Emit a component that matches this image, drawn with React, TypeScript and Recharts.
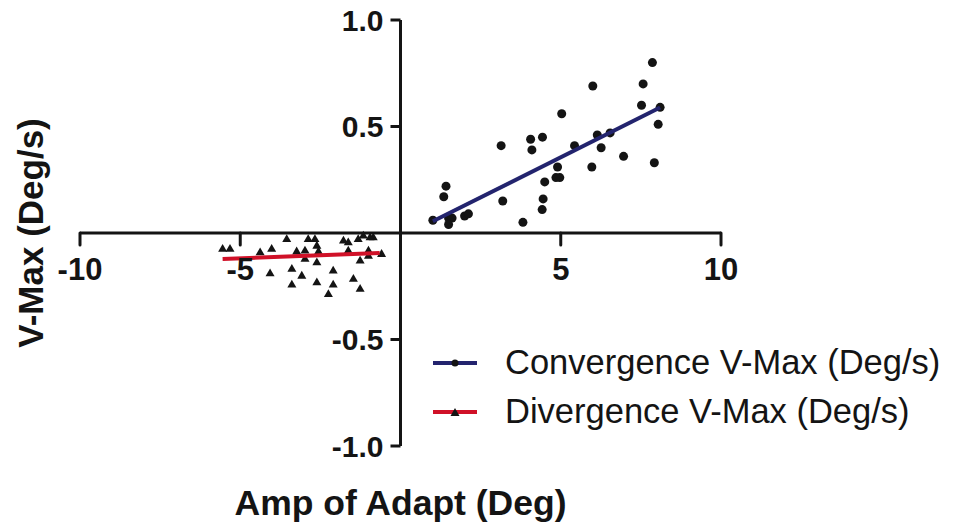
import React from 'react';
import { ScatterChart, Scatter, XAxis, YAxis, ReferenceLine, Legend } from 'recharts';

// Convergence V-Max (circles)
const convX = [7.86, 6.0, 7.57, 7.52, 8.1, 8.04, 5.03, 4.43, 4.06, 4.1, 3.14, 6.14, 6.54, 5.43, 6.26, 6.96, 7.92, 5.97, 4.9, 4.85, 4.97, 4.5, 4.45, 4.42, 3.19, 3.82, 1.42, 1.35, 1.01, 1.5, 1.61, 1.5, 2.0, 2.12];
const convY = [0.8, 0.69, 0.7, 0.6, 0.59, 0.51, 0.56, 0.45, 0.44, 0.39, 0.41, 0.46, 0.47, 0.41, 0.4, 0.36, 0.33, 0.31, 0.31, 0.26, 0.26, 0.24, 0.16, 0.11, 0.15, 0.05, 0.22, 0.17, 0.06, 0.07, 0.07, 0.04, 0.08, 0.09];

// Divergence V-Max (triangles)
const divX = [-5.55, -5.32, -4.38, -4.02, -3.55, -4.07, -3.24, -2.98, -2.98, -2.88, -2.67, -2.61, -2.56, -2.61, -3.39, -3.08, -3.39, -2.61, -2.25, -2.1, -2.1, -1.78, -1.63, -1.63, -1.47, -1.26, -1.26, -1.32, -1.16, -0.95, -0.85, -1.0, -1.0, -0.59];
const divY = [-0.07, -0.07, -0.086, -0.07, -0.024, -0.185, -0.082, -0.078, -0.117, -0.024, -0.024, -0.055, -0.082, -0.133, -0.164, -0.196, -0.238, -0.227, -0.282, -0.172, -0.238, -0.031, -0.039, -0.078, -0.211, -0.258, -0.125, -0.024, -0.008, -0.016, -0.016, -0.078, -0.102, -0.094];

// fitted lines, end points
const convFitX = [1.01, 8.1];
const convFitY = [0.055, 0.589];
const divFitX = [-5.55, -0.65];
const divFitY = [-0.122, -0.094];

const xTicks = [-10, -5, 5, 10];
const yTicks = [-1, -0.5, 0.5, 1];
const seriesNames = ['Convergence V-Max (Deg/s)', 'Divergence V-Max (Deg/s)'];

const W = 953;
const H = 523;
const Y_AXIS_W = 72;
const X_AXIS_H = 69;
const margin = { top: 20, right: 232, bottom: 8, left: 8 };
const plotW = W - margin.right - margin.left - Y_AXIS_W;
const plotH = H - margin.top - margin.bottom - X_AXIS_H;
// axes cross at zero; domains are symmetric so zero sits mid-plot
const ZERO_X = margin.left + Y_AXIS_W + plotW / 2;
const ZERO_Y = margin.top + plotH / 2;

const FONT = "'Liberation Sans', Arial, Helvetica, sans-serif";
const INK = '#141414';
const NAVY = '#23246e';
const RED = '#d01128';

const toPoints = (xs: number[], ys: number[]) => xs.map((x, i) => ({ x, y: ys[i] }));
const convData = toPoints(convX, convY);
const divData = toPoints(divX, divY);
const convFit = toPoints(convFitX, convFitY);
const divFit = toPoints(divFitX, divFitY);

const Dot = (props: any) => <circle cx={props.cx} cy={props.cy} r={4.5} fill={INK} />;

const Tri = (props: any) => {
  const { cx, cy } = props;
  const s = 9;
  const h = s * 0.87;
  return (
    <polygon
      points={`${cx - s / 2},${cy + h / 2} ${cx + s / 2},${cy + h / 2} ${cx},${cy - h / 2}`}
      fill={INK}
    />
  );
};

const XTick = (props: any) => {
  const { x, payload } = props;
  return (
    <g>
      <line x1={x} x2={x} y1={ZERO_Y} y2={ZERO_Y + 12} stroke={INK} strokeWidth={3} strokeLinecap="round" />
      <text x={x} y={ZERO_Y + 47} textAnchor="middle" fontSize={31} fontWeight="bold" fontFamily={FONT} fill={INK}>
        {payload.value}
      </text>
    </g>
  );
};

const YTick = (props: any) => {
  const { y, payload } = props;
  return (
    <g>
      <line x1={ZERO_X - 10} x2={ZERO_X} y1={y} y2={y} stroke={INK} strokeWidth={3} />
      <text x={ZERO_X - 17} y={y} dy={10.5} textAnchor="end" fontSize={30} fontWeight="bold" fontFamily={FONT} fill={INK}>
        {payload.value.toFixed(1)}
      </text>
    </g>
  );
};

const YTitle = (props: any) => {
  const vb = props.viewBox;
  const cx = vb.x + 22;
  const cy = vb.y + vb.height / 2;
  return (
    <text
      x={cx}
      y={cy}
      transform={`rotate(-90 ${cx} ${cy})`}
      textAnchor="middle"
      dominantBaseline="central"
      fontSize={35}
      fontWeight="bold"
      fontFamily={FONT}
      fill={INK}
    >
      V-Max (Deg/s)
    </text>
  );
};

const XTitle = (props: any) => {
  const vb = props.viewBox;
  return (
    <text
      x={vb.x + vb.width / 2}
      y={vb.y + vb.height}
      textAnchor="middle"
      fontSize={35.5}
      fontWeight="bold"
      fontFamily={FONT}
      fill={INK}
    >
      Amp of Adapt (Deg)
    </text>
  );
};

const LegendBox = () => (
  <div style={{ fontFamily: FONT, fontSize: 34.5, color: INK }}>
    {seriesNames.map((name, i) => (
      <div key={name} style={{ display: 'flex', alignItems: 'center', height: 49, whiteSpace: 'nowrap' }}>
        <svg width={44} height={14} style={{ marginRight: 28, flexShrink: 0 }}>
          <line x1={0} x2={44} y1={7} y2={7} stroke={i === 0 ? NAVY : RED} strokeWidth={4} />
          {i === 0 ? (
            <circle cx={22} cy={7} r={3.5} fill={INK} />
          ) : (
            <polygon points="17.5,11 26.5,11 22,3" fill={INK} />
          )}
        </svg>
        <span>{name}</span>
      </div>
    ))}
  </div>
);

export default function App() {
  return (
    <div style={{ width: W, height: H, position: 'relative', top: -8, left: -8, fontFamily: FONT }}>
      <ScatterChart width={W} height={H} margin={margin}>
        <XAxis
          dataKey="x"
          type="number"
          domain={[-10, 10]}
          ticks={xTicks}
          allowDataOverflow
          axisLine={false}
          tickLine={false}
          tick={<XTick />}
          height={X_AXIS_H}
          label={<XTitle />}
        />
        <YAxis
          dataKey="y"
          type="number"
          domain={[-1, 1]}
          ticks={yTicks}
          allowDataOverflow
          axisLine={false}
          tickLine={false}
          tick={<YTick />}
          width={Y_AXIS_W}
          label={<YTitle />}
        />
        <ReferenceLine y={0} stroke={INK} strokeWidth={3} />
        <ReferenceLine x={0} stroke={INK} strokeWidth={3} />
        <Legend
          layout="vertical"
          align="center"
          verticalAlign="middle"
          content={<LegendBox />}
          wrapperStyle={{ left: 433, top: 338, width: 520 }}
        />
        <Scatter name={seriesNames[0]} data={convData} shape={<Dot />} isAnimationActive={false} />
        <Scatter name={seriesNames[1]} data={divData} shape={<Tri />} isAnimationActive={false} />
        <Scatter
          data={convFit}
          line={{ stroke: NAVY, strokeWidth: 4 }}
          shape={() => <g />}
          legendType="none"
          isAnimationActive={false}
        />
        <Scatter
          data={divFit}
          line={{ stroke: RED, strokeWidth: 4 }}
          shape={() => <g />}
          legendType="none"
          isAnimationActive={false}
        />
      </ScatterChart>
    </div>
  );
}
